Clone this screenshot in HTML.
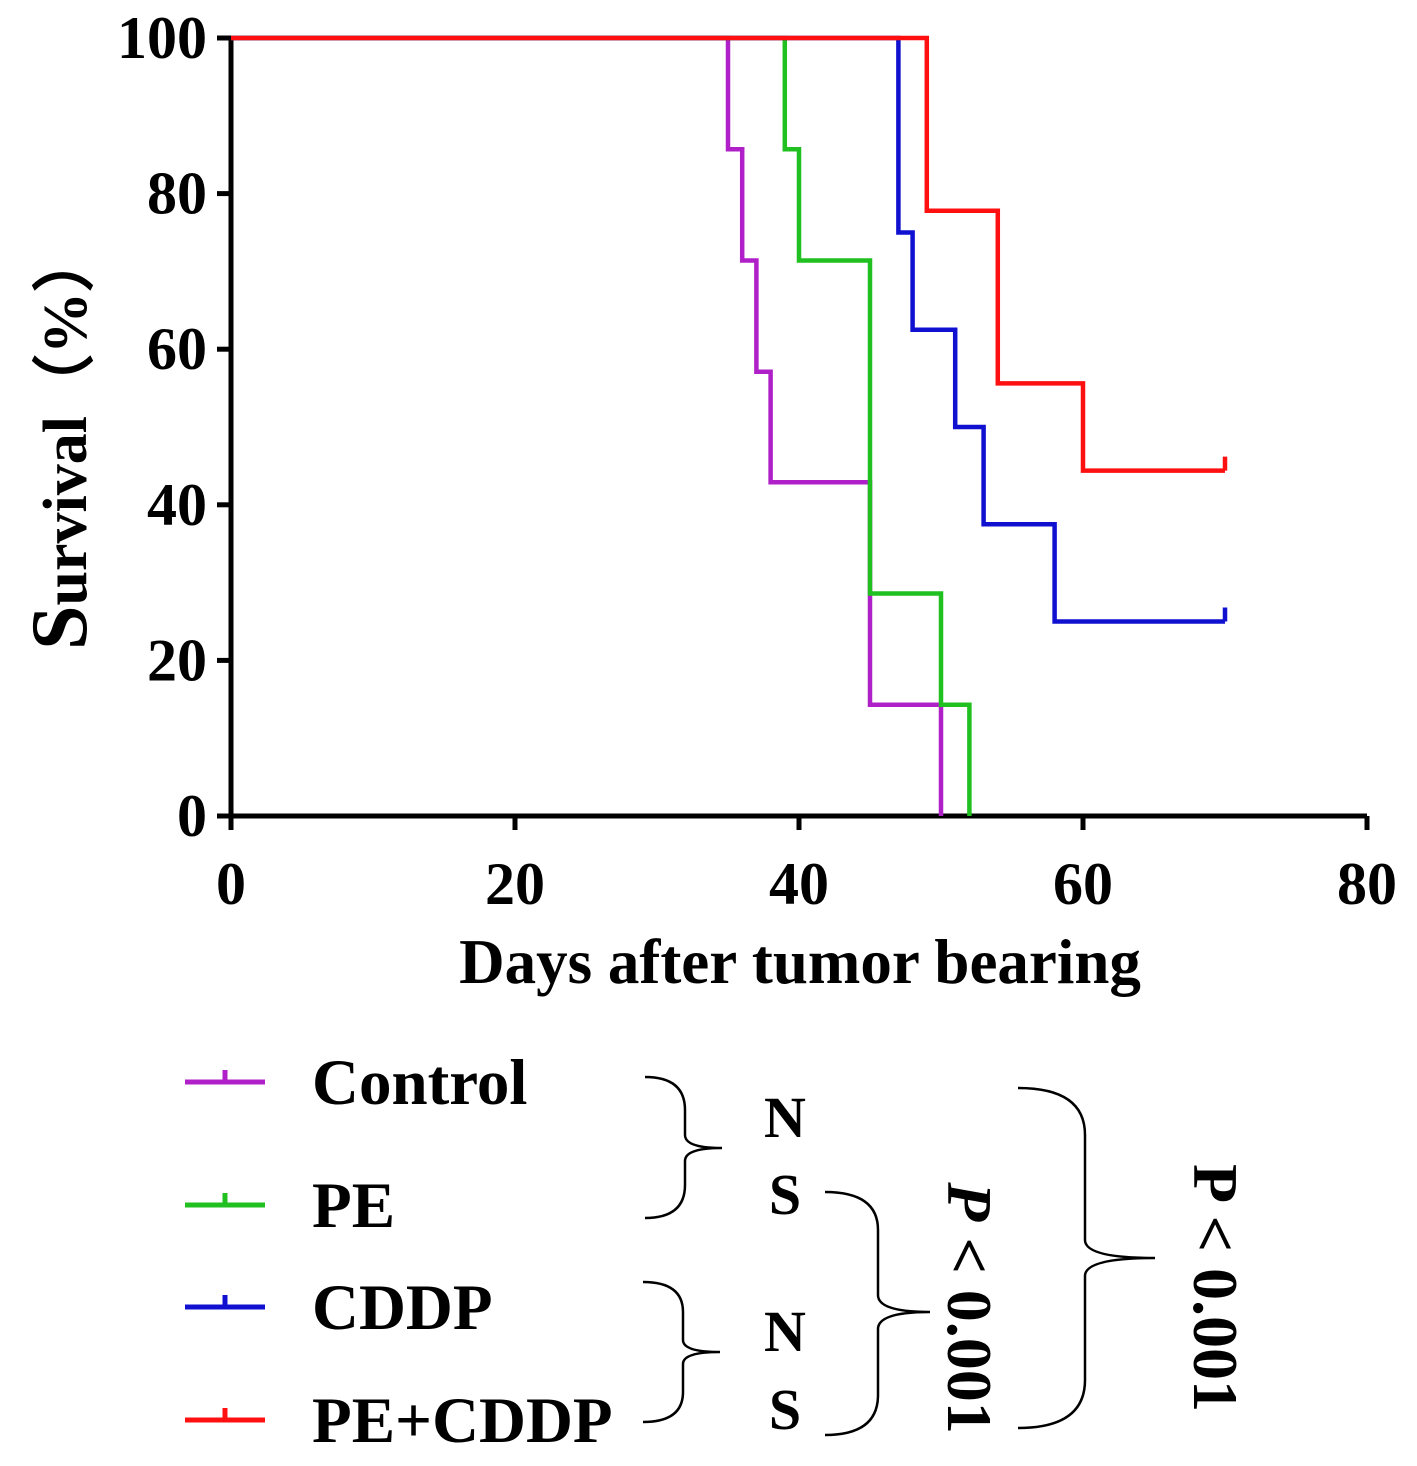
<!DOCTYPE html>
<html><head><meta charset="utf-8"><style>
body{margin:0;background:#fff}
svg text{font-family:"Liberation Serif",serif;font-weight:bold;fill:#000}
</style></head><body>
<svg id="chart" width="1417" height="1461" viewBox="0 0 1417 1461" xmlns="http://www.w3.org/2000/svg">
<g id="axes"></g>
<g id="series"></g>
<text x="800" y="983" font-size="63" text-anchor="middle">Days after tumor bearing</text>
<text transform="translate(86,440) rotate(-90)" font-size="62" text-anchor="middle"><tspan font-size="80">S</tspan>urvival（%）</text>
<g id="legend"></g>
<g fill="none" stroke="#000" stroke-width="2.5">
<path d="M645,1077 Q685,1077 685,1110 L685,1135 Q685,1148 722,1148 Q685,1148 685,1161 L685,1185 Q685,1218 645,1218"/>
<path d="M643,1282 Q683,1282 683,1312 L683,1340 Q683,1352 720,1352 Q683,1352 683,1364 L683,1392 Q683,1422 643,1422"/>
<path d="M825,1192 Q878,1192 878,1230 L878,1295 Q878,1312 930,1312 Q878,1312 878,1329 L878,1395 Q878,1435 825,1435"/>
<path d="M1018,1088 Q1085,1088 1085,1135 L1085,1240 Q1085,1258 1155,1258 Q1085,1258 1085,1276 L1085,1380 Q1085,1428 1018,1428"/>
</g>
<text x="785" y="1137" font-size="58" text-anchor="middle">N</text>
<text x="785" y="1214" font-size="58" text-anchor="middle">S</text>
<text x="785" y="1351" font-size="58" text-anchor="middle">N</text>
<text x="785" y="1429" font-size="58" text-anchor="middle">S</text>
<text transform="translate(948,1308) rotate(90)" font-size="64" text-anchor="middle"><tspan font-style="italic">P</tspan> &lt; 0.001</text>
<text transform="translate(1194,1288) rotate(90)" font-size="64" text-anchor="middle">P &lt; 0.001</text>
</svg>
<script>
const xTicks=[0,20,40,60,80];
const yTicks=[0,20,40,60,80,100];
const seriesNames=["Control","PE","CDDP","PE+CDDP"];
const seriesColors=["#b020c8","#20c020","#1010d0","#ff1010"];
const controlDays=[0,35,36,37,38,45,50];
const controlSurv=[100,85.7,71.4,57.1,42.9,14.3,0];
const peDays=[0,39,40,45,50,52];
const peSurv=[100,85.7,71.4,28.6,14.3,0];
const cddpDays=[0,47,48,51,53,58];
const cddpSurv=[100,75,62.5,50,37.5,25];
const combDays=[0,49,54,60];
const combSurv=[100,77.8,55.6,44.4];
const endDays=[50,52,70,70];
const NS="http://www.w3.org/2000/svg";
const X=d=>231+d*(1367-231)/80;
const Y=v=>816-v*(816-38)/100;
function mk(t,a,p){const e=document.createElementNS(NS,t);for(const k in a)e.setAttribute(k,a[k]);p.appendChild(e);return e;}
const ax=document.getElementById('axes');
let e=mk('path',{d:`M${X(0)},${Y(100)} V${Y(0)} H${X(80)}`,fill:'none',stroke:'#000','stroke-width':5},ax);


xTicks.forEach(t=>{
 let l=mk('line',{x1:X(t),x2:X(t),y1:Y(0),y2:Y(0)+14,stroke:'#000','stroke-width':5},ax);
 
 
 let tx=mk('text',{x:X(t),y:Y(0)+88,'font-size':60,'text-anchor':'middle'},ax);tx.textContent=t;
 
 
});
yTicks.forEach(t=>{
 let l=mk('line',{x1:X(0)-14,x2:X(0),y1:Y(t),y2:Y(t),stroke:'#000','stroke-width':5},ax);
 
 
 let tx=mk('text',{x:X(0)-24,y:Y(t)+20,'font-size':60,'text-anchor':'end'},ax);tx.textContent=t;
 
 
});
const sg=document.getElementById('series');
const data=[[controlDays,controlSurv],[peDays,peSurv],[cddpDays,cddpSurv],[combDays,combSurv]];
data.forEach(([ds,vs],i)=>{
 let d=`M${X(ds[0])},${Y(vs[0])}`;
 for(let k=1;k<ds.length;k++){d+=` H${X(ds[k])} V${Y(vs[k])}`;}
 d+=` H${X(endDays[i])}`;
 const last=vs[vs.length-1];
 if(last>0)d+=` M${X(endDays[i])},${Y(last)} V${Y(last)-14}`;
 let p=mk('path',{d,fill:'none',stroke:seriesColors[i],'stroke-width':4.5},sg);
 
 
});
const lg=document.getElementById('legend');
const ly=[1082,1205,1307,1420];
seriesNames.forEach((n,i)=>{
 let l=mk('path',{d:`M185,${ly[i]} H265 M225,${ly[i]} V${ly[i]-12}`,stroke:seriesColors[i],'stroke-width':5,fill:'none'},lg);
 
 
 let t=mk('text',{x:312,y:ly[i]+22,'font-size':65},lg);t.textContent=n;
 
 
});
</script>
</body></html>
